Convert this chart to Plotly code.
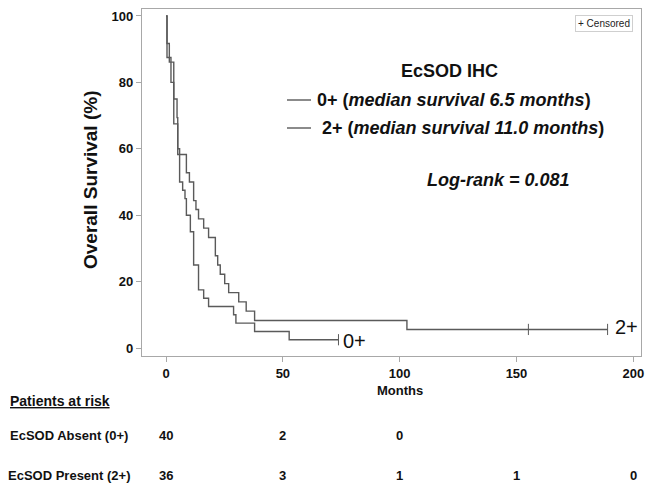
import plotly.graph_objects as go

# ---- data ----
t_neg = [0, 0.4, 2.1, 3.3, 5.0, 5.8, 7.1, 8.1, 8.7, 10.4, 11.8, 13.9, 16.1, 18.2, 28.9, 29.9, 37.9, 52.7, 73.8]
s_neg = [100, 87.5, 80, 67.5, 60, 50, 47.5, 45, 40, 35, 25, 17.5, 15, 12.5, 10, 7.5, 5, 2.5, 2.5]
cens_neg_t = [73.8]
cens_neg_s = [2.5]

t_pos = [0, 0.4, 1.4, 3.3, 4.7, 5.0, 8.7, 10.0, 11.8, 12.8, 13.9, 16.1, 18.2, 21.1, 22.1, 23.2, 25.1, 26.8, 31.1, 34.3, 37.9, 103.1, 189]
s_pos = [100, 91.7, 86.1, 75, 69.4, 58.3, 52.8, 50, 44.4, 41.7, 38.9, 36.1, 33.3, 27.8, 25, 22.2, 19.4, 16.7, 13.9, 11.1, 8.3, 5.6, 5.6]
cens_pos_t = [155.1, 189]
cens_pos_s = [5.6, 5.6]

x_ticks = [0, 50, 100, 150, 200]
y_ticks = [0, 20, 40, 60, 80, 100]
risk_times = [0, 50, 100, 150, 200]
risk_neg = ["40", "2", "0"]
risk_pos = ["36", "3", "1", "1", "0"]

LINE = "#5a5a5a"
FRAME = "#a8a8a8"
FONT = "Liberation Sans, Arial, sans-serif"

W, H = 654, 492
L, R, T, B = 142, 13, 9, 136
PW, PH = W - L - R, H - T - B


def px(x):
    return (x - L) / PW


def py(y):
    return (H - B - y) / PH


fig = go.Figure()
fig.add_trace(go.Scatter(x=t_neg, y=s_neg, mode="lines", line=dict(color=LINE, width=1.4, shape="hv"),
                         showlegend=False, hoverinfo="skip"))
fig.add_trace(go.Scatter(x=t_pos, y=s_pos, mode="lines", line=dict(color=LINE, width=1.4, shape="hv"),
                         showlegend=False, hoverinfo="skip"))
fig.add_trace(go.Scatter(x=cens_neg_t + cens_pos_t, y=cens_neg_s + cens_pos_s, mode="markers",
                         marker=dict(symbol="line-ns", size=8, line=dict(color=LINE, width=1)),
                         showlegend=False, hoverinfo="skip"))

annotations = []
# curve end labels
annotations.append(dict(x=cens_neg_t[-1], y=cens_neg_s[-1], xref="x", yref="y", text="0+", showarrow=False,
                        xanchor="left", yanchor="middle", xshift=3, yshift=-1,
                        font=dict(family=FONT, size=20, color="#111")))
annotations.append(dict(x=cens_pos_t[-1], y=cens_pos_s[-1], xref="x", yref="y", text="2+", showarrow=False,
                        xanchor="left", yanchor="middle", xshift=5, yshift=2,
                        font=dict(family=FONT, size=20, color="#111")))
# legend block
annotations.append(dict(x=px(449), y=py(71), xref="paper", yref="paper", text="<b>EcSOD IHC</b>",
                        showarrow=False, xanchor="center", yanchor="middle",
                        font=dict(family=FONT, size=18, color="#111")))
annotations.append(dict(x=px(315), y=py(100), xref="paper", yref="paper",
                        text="<b>0+ (<i>median survival 6.5 months</i>)</b>",
                        showarrow=False, xanchor="left", yanchor="middle",
                        font=dict(family=FONT, size=18, color="#111")))
annotations.append(dict(x=px(320), y=py(128), xref="paper", yref="paper",
                        text="<b>2+ (<i>median survival 11.0 months</i>)</b>",
                        showarrow=False, xanchor="left", yanchor="middle",
                        font=dict(family=FONT, size=18, color="#111")))
annotations.append(dict(x=px(498), y=py(180), xref="paper", yref="paper",
                        text="<b><i>Log-rank = 0.081</i></b>",
                        showarrow=False, xanchor="center", yanchor="middle",
                        font=dict(family=FONT, size=18, color="#111")))
annotations.append(dict(x=px(604), y=py(23), xref="paper", yref="paper", text="+ Censored",
                        showarrow=False, xanchor="center", yanchor="middle",
                        bordercolor="#cfcfcf", borderwidth=1, borderpad=2, bgcolor="white",
                        font=dict(family=FONT, size=10, color="#222")))
# axis titles
annotations.append(dict(x=px(90), y=py(180), xref="paper", yref="paper", text="<b>Overall Survival (%)</b>",
                        textangle=-90, showarrow=False, xanchor="center", yanchor="middle",
                        font=dict(family=FONT, size=19, color="#111")))
annotations.append(dict(x=100, y=py(390), xref="x", yref="paper", text="<b>Months</b>",
                        showarrow=False, xanchor="center", yanchor="middle",
                        font=dict(family=FONT, size=13, color="#111")))
# risk table
annotations.append(dict(x=px(8), y=py(401), xref="paper", yref="paper", text="<b><u>Patients at risk</u></b>",
                        showarrow=False, xanchor="left", yanchor="middle",
                        font=dict(family=FONT, size=14, color="#111")))
annotations.append(dict(x=px(8), y=py(435), xref="paper", yref="paper", text="<b>EcSOD Absent (0+)</b>",
                        showarrow=False, xanchor="left", yanchor="middle",
                        font=dict(family=FONT, size=13, color="#111")))
annotations.append(dict(x=px(6), y=py(475), xref="paper", yref="paper", text="<b>EcSOD Present (2+)</b>",
                        showarrow=False, xanchor="left", yanchor="middle",
                        font=dict(family=FONT, size=13, color="#111")))
for tm, v in zip(risk_times, risk_neg):
    annotations.append(dict(x=tm, y=py(435), xref="x", yref="paper", text=f"<b>{v}</b>",
                            showarrow=False, xanchor="center", yanchor="middle",
                            font=dict(family=FONT, size=13, color="#111")))
for tm, v in zip(risk_times, risk_pos):
    annotations.append(dict(x=tm, y=py(475), xref="x", yref="paper", text=f"<b>{v}</b>",
                            showarrow=False, xanchor="center", yanchor="middle",
                            font=dict(family=FONT, size=13, color="#111")))

shapes = [
    dict(type="line", xref="paper", yref="paper", x0=px(287), x1=px(311), y0=py(100), y1=py(100),
         line=dict(color=LINE, width=1.4)),
    dict(type="line", xref="paper", yref="paper", x0=px(287), x1=px(311), y0=py(128), y1=py(128),
         line=dict(color=LINE, width=1.4)),
]

fig.update_layout(
    width=W, height=H,
    margin=dict(l=L, r=R, t=T, b=B, pad=0),
    paper_bgcolor="white", plot_bgcolor="white",
    font=dict(family=FONT, color="#111"),
    annotations=annotations, shapes=shapes,
    xaxis=dict(range=[-10.3, 203.3], tickvals=x_ticks, ticktext=[f"<b>{v}</b>" for v in x_ticks],
               showgrid=False, zeroline=False, showline=True, mirror=True, linecolor=FRAME, linewidth=1.2,
               ticks="outside", ticklen=5, tickcolor=FRAME, tickfont=dict(family=FONT, size=13, color="#111")),
    yaxis=dict(range=[-2.4, 102.1], tickvals=y_ticks, ticktext=[f"<b>{v}</b>" for v in y_ticks],
               showgrid=False, zeroline=False, showline=True, mirror=True, linecolor=FRAME, linewidth=1.2,
               ticks="outside", ticklen=5, tickcolor=FRAME, tickfont=dict(family=FONT, size=13, color="#111")),
)

fig.write_html("out.html", config={"displayModeBar": False},
               post_script="document.body.style.margin='0';document.body.style.padding='0';")
